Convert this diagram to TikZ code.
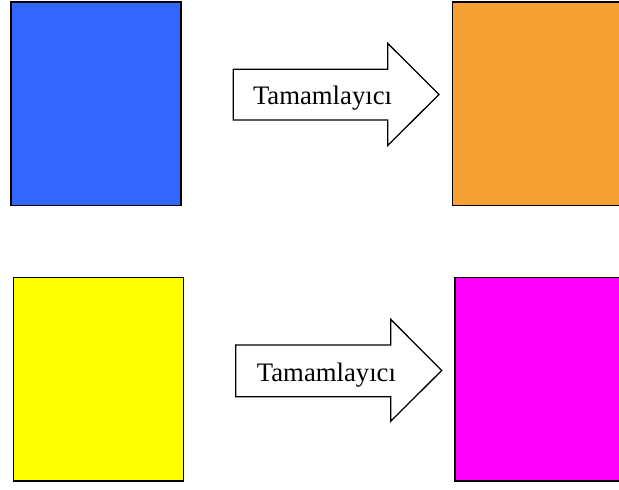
\documentclass[tikz,border=0pt]{standalone}
\usepackage{fontspec}
\setmainfont{Liberation Serif}
\definecolor{swblue}{HTML}{3366FF}
\definecolor{sworange}{HTML}{F5A030}
\definecolor{swyellow}{HTML}{FFFF00}
\definecolor{swmagenta}{HTML}{FF00FF}
\begin{document}
\begin{tikzpicture}[x=1pt,y=-1pt,
  swatch/.style={draw=black, line width=1.5pt, anchor=north west, inner sep=0pt, outer sep=0pt},
  bigarrow/.style={draw=black, line width=1.3pt, fill=white, line join=miter},
  arrowlabel/.style={anchor=base, inner sep=0pt, font=\fontsize{26.7}{30}\selectfont}]
  \clip (0,0) rectangle (619,490);
  \fill[white] (0,0) rectangle (619,490);

  % colour swatches
  \node[swatch, fill=swblue,    minimum width=170pt,   minimum height=203.7pt] (blue)    at (11,2) {};
  \node[swatch, fill=sworange,  minimum width=180pt,   minimum height=203.7pt] (orange)  at (452.7,2) {};
  \node[swatch, fill=swyellow,  minimum width=170pt,   minimum height=203.7pt] (yellow)  at (13.3,277.3) {};
  \node[swatch, fill=swmagenta, minimum width=180pt,   minimum height=203.7pt] (magenta) at (455,277.3) {};

  % block arrows
  \draw[bigarrow] (233.3,69.3) -- (387.7,69.3) -- (387.7,43.3) -- (439,94.5)
    -- (387.7,145.5) -- (387.7,120) -- (233.3,120) -- cycle;
  \node[arrowlabel] (lab1) at (322.5,104) {Tamamlayıcı};

  \draw[bigarrow] (235.7,345) -- (390.7,345) -- (390.7,319.3) -- (441.7,370.5)
    -- (390.7,421.2) -- (390.7,396.7) -- (235.7,396.7) -- cycle;
  \node[arrowlabel] (lab2) at (326.4,381.7) {Tamamlayıcı};
\end{tikzpicture}
\end{document}
